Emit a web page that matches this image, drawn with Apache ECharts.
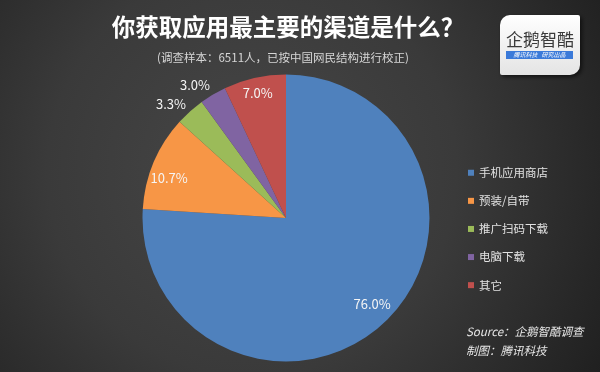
<!DOCTYPE html>
<html><head><meta charset="utf-8">
<script src="https://cdn.jsdelivr.net/npm/echarts@6/dist/echarts.min.js"></script>
<style>html,body{margin:0;padding:0;background:#2c2c2c}#c{width:600px;height:372px}</style>
</head><body><div id="c"></div>
<script>
var categories = ['手机应用商店', '预装/自带', '推广扫码下载', '电脑下载', '其它'];
var values = [76.0, 10.7, 3.3, 3.0, 7.0];
var colors = ['#4F81BD', '#F79646', '#9BBB59', '#8064A2', '#C0504D'];
var titleText = '你获取应用最主要的渠道是什么？';
var subText = '(调查样本：6511人，已按中国网民结构进行校正)';
var sourceLines = ['Source：企鹅智酷调查', '制图：腾讯科技'];
// label nudges from default inside position
var labelShift = [[35, 32], [-48, -11], [-65, -58], [-53, -69], [-12, -52]];

var FONT = '"Noto Sans CJK SC", "Noto Sans", sans-serif';
var chart = echarts.init(document.getElementById('c'), null, {renderer: 'canvas'});
chart.setOption({
  animation: false,
  backgroundColor: {
    type: 'radial', x: 0.42, y: 0.46, r: 1.1,
    colorStops: [{offset: 0, color: '#474747'}, {offset: 0.5, color: '#3a3a3a'}, {offset: 1, color: '#1f1f1f'}]
  },
  color: colors,
  legend: {
    orient: 'vertical', left: 463, top: 162,
    icon: 'rect', itemWidth: 6, itemHeight: 6, itemGap: 16.6,
    textStyle: {color: '#e2e2e2', fontSize: 11.5, fontFamily: FONT},
    data: categories
  },
  series: [{
    type: 'pie',
    center: [286, 218],
    radius: 143.5,
    startAngle: 90,
    clockwise: true,
    avoidLabelOverlap: false,
    label: {
      show: true, position: 'inside',
      formatter: function (p) { return p.value.toFixed(1) + '%'; },
      color: '#f5f5f5', fontSize: 13, fontFamily: FONT
    },
    labelLine: {show: false},
    labelLayout: function (p) {
      var s = labelShift[p.dataIndex];
      return {dx: s[0], dy: s[1]};
    },
    data: categories.map(function (c, i) { return {name: c, value: values[i]}; })
  }],
  graphic: [
    {type: 'text', style: {
      text: titleText, x: 288, y: 27, align: 'center', verticalAlign: 'middle',
      fill: '#ffffff', font: 'bold 23.5px ' + FONT,
      shadowColor: 'rgba(0,0,0,0.8)', shadowBlur: 3, shadowOffsetX: 1, shadowOffsetY: 1
    }},
    {type: 'text', style: {
      text: subText, x: 283, y: 58, align: 'center', verticalAlign: 'middle',
      fill: '#d6d6d6', font: '11.5px ' + FONT
    }},
    {type: 'text', style: {
      text: sourceLines[0], x: 466, y: 332, verticalAlign: 'middle',
      fill: '#e6e6e6', font: 'italic 11.5px ' + FONT
    }},
    {type: 'text', style: {
      text: sourceLines[1], x: 466, y: 351, verticalAlign: 'middle',
      fill: '#e6e6e6', font: 'italic 11.5px ' + FONT
    }},
    {type: 'group', x: 500, y: 15, children: [
      {type: 'rect', shape: {x: 0, y: 0, width: 80, height: 60, r: [10, 2, 10, 2]},
       style: {fill: {type: 'linear', x: 0, y: 0, x2: 0, y2: 1,
         colorStops: [{offset: 0, color: '#ffffff'}, {offset: 1, color: '#e4e4e4'}]},
         shadowColor: 'rgba(0,0,0,0.6)', shadowBlur: 4, shadowOffsetX: 2, shadowOffsetY: 2}},
      {type: 'text', style: {text: '企鹅智酷', x: 40, y: 25, align: 'center', verticalAlign: 'middle',
        fill: '#3a3a3a', font: '17px ' + FONT}},
      {type: 'rect', shape: {x: 6, y: 36, width: 67, height: 8},
       style: {fill: '#3b7ad9'}},
      {type: 'text', style: {text: '腾讯科技   研究出品', x: 39.5, y: 40, align: 'center', verticalAlign: 'middle',
        fill: '#ffffff', font: 'italic 6px ' + FONT}}
    ]}
  ]
});
</script></body></html>
